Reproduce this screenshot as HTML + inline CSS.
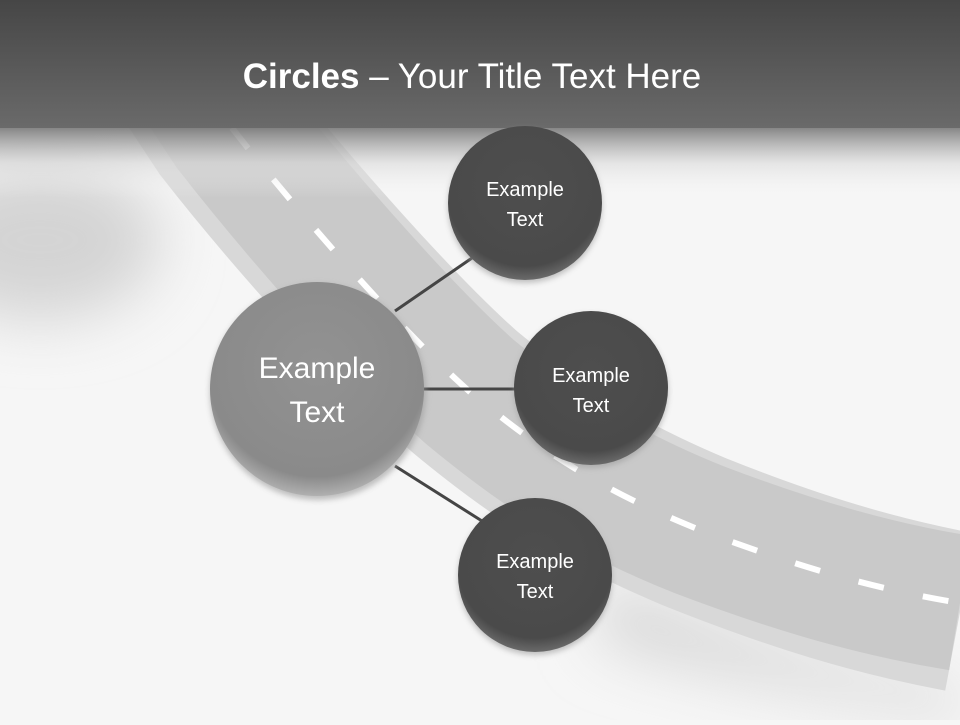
<!DOCTYPE html>
<html><head><meta charset="utf-8"><style>
html,body{margin:0;padding:0;}
body{width:960px;height:720px;overflow:hidden;background:#f6f6f6;font-family:"Liberation Sans",sans-serif;}
</style></head><body>
<svg width="960" height="720" viewBox="0 0 960 720" xmlns="http://www.w3.org/2000/svg">
<defs>
<linearGradient id="hdr" x1="0" y1="0" x2="0" y2="1">
<stop offset="0" stop-color="#464646"/><stop offset="1" stop-color="#6a6a6a"/></linearGradient>
<linearGradient id="fade" x1="0" y1="0" x2="0" y2="1">
<stop offset="0" stop-color="#7a7a7a" stop-opacity="0.9"/><stop offset="0.5" stop-color="#d8d8d8" stop-opacity="0.6"/><stop offset="1" stop-color="#f6f6f6" stop-opacity="0"/></linearGradient>
<radialGradient id="big" cx="0.5" cy="0.4" r="0.6">
<stop offset="0" stop-color="#929292"/><stop offset="0.85" stop-color="#8a8a8a"/><stop offset="1" stop-color="#b0b0b0"/></radialGradient>
<radialGradient id="sm" cx="0.5" cy="0.4" r="0.6">
<stop offset="0" stop-color="#4e4e4e"/><stop offset="0.85" stop-color="#4a4a4a"/><stop offset="1" stop-color="#6a6a6a"/></radialGradient>
<filter id="bl" x="-100%" y="-100%" width="300%" height="300%"><feGaussianBlur stdDeviation="30"/></filter>
<filter id="sh"><feGaussianBlur stdDeviation="3"/></filter>
</defs>
<rect width="960" height="720" fill="#f6f6f6"/>
<ellipse cx="40" cy="240" rx="120" ry="80" fill="#d4d4d4" filter="url(#bl)"/>
<path d="M600,640 C760,690 900,700 960,720 L960,690 C800,660 700,620 600,580 Z" fill="#d4d4d4" filter="url(#bl)"/>
<!-- road -->
<path d="M180,60 L225,128 C285,205 395,330 465,392 C535,450 595,490 695,532 C795,572 875,596 960,612" fill="none" stroke="#d8d8d8" stroke-width="160"/>
<path d="M187,60 L232,128 C292,205 400,330 470,392 C540,450 600,490 700,530 C800,568 880,590 960,603" fill="none" stroke="#c9c9c9" stroke-width="136"/>
<path d="M232,128 C292,205 400,330 470,392 C540,450 600,490 700,530 C800,568 880,590 960,603" fill="none" stroke="#ffffff" stroke-width="6" stroke-dasharray="26,40"/>
<!-- header -->
<rect x="0" y="128" width="960" height="70" fill="url(#fade)"/>
<rect x="0" y="0" width="960" height="128" fill="url(#hdr)"/>
<text x="472" y="88" text-anchor="middle" fill="#ffffff" font-family="Liberation Sans, sans-serif" font-size="35"><tspan font-weight="bold">Circles</tspan> – Your Title Text Here</text>
<!-- connectors -->
<g stroke="#454545" stroke-width="3">
<line x1="395" y1="311" x2="472" y2="258"/>
<line x1="424" y1="389" x2="516" y2="389"/>
<line x1="395" y1="466" x2="482" y2="521"/>
</g>
<!-- circles -->
<g filter="url(#sh)" fill="#999" opacity="0.6">
<circle cx="318" cy="392" r="108"/><circle cx="525" cy="206" r="77"/><circle cx="591" cy="391" r="77"/><circle cx="535" cy="578" r="77"/>
</g>
<circle cx="317" cy="389" r="107" fill="url(#big)"/>
<circle cx="525" cy="203" r="77" fill="url(#sm)"/>
<circle cx="591" cy="388" r="77" fill="url(#sm)"/>
<circle cx="535" cy="575" r="77" fill="url(#sm)"/>
<g fill="#ffffff" text-anchor="middle" font-family="Liberation Sans, sans-serif">
<text x="317" y="378" font-size="30">Example</text>
<text x="317" y="422" font-size="30">Text</text>
<text x="525" y="196" font-size="20">Example</text>
<text x="525" y="226" font-size="20">Text</text>
<text x="591" y="382" font-size="20">Example</text>
<text x="591" y="412" font-size="20">Text</text>
<text x="535" y="568" font-size="20">Example</text>
<text x="535" y="598" font-size="20">Text</text>
</g>
</svg>
</body></html>
